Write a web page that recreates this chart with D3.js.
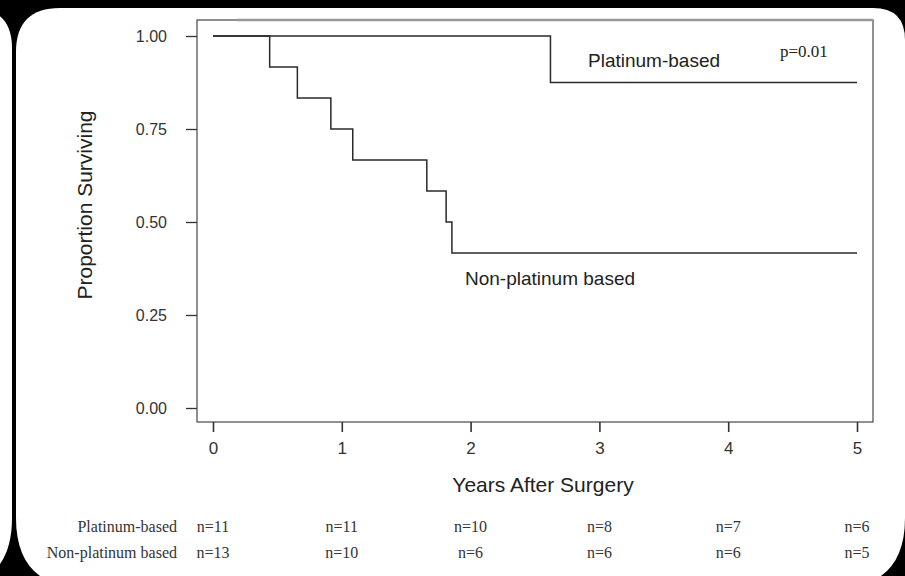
<!DOCTYPE html>
<html>
<head>
<meta charset="utf-8">
<script src="https://cdn.jsdelivr.net/npm/d3@7/dist/d3.min.js"></script>
<style>
    body { margin: 0; background: #000; }
    svg { display: block; }
</style>
</head>
<body>
<div id="chart_area"></div>
<script>

// survival curves
var plat_times = [0, 2.62];
var plat_surv = [1, 0.875];
var nonplat_times = [0, 0.44, 0.655, 0.915, 1.085, 1.66, 1.81, 1.855];
var nonplat_surv = [1, 0.917, 0.833, 0.75, 0.667, 0.583, 0.5, 0.417];
var follow_up_end = 5;

var x_ticks = [0, 1, 2, 3, 4, 5];
var y_ticks = [0, 0.25, 0.5, 0.75, 1];

// numbers at risk
var risk_groups = ["Platinum-based", "Non-platinum based"];
var risk_years = [0, 1, 2, 3, 4, 5];
var plat_n = [11, 11, 10, 8, 7, 6];
var nonplat_n = [13, 10, 6, 6, 6, 5];

var svg_w = 905;
var svg_h = 576;
var svg = d3.select("#chart_area")
    .append("svg")
    .attr("width", svg_w)
    .attr("height", svg_h);

draw_panel();
draw_plot();
draw_risk_table();

function draw_panel(){
    svg.append("rect")
        .attr("width", svg_w)
        .attr("height", svg_h)
        .style("fill", "#000");

    // bit of the neighbouring slide on the left
    svg.append("path")
        .attr("d", "M-60,20 Q-60,8 -40,8 L-28,8 Q12,8 12,48 L12,518 Q12,588 -58,588 L-60,588 Z")
        .style("fill", "#fff");

    // main white panel
    svg.append("path")
        .attr("d", "M16,52 Q16,8 60,8 L873,8 Q905,8 905,40 L905,518 Q905,588 835,588 L86,588 Q16,588 16,518 Z")
        .style("fill", "#fff");
}

function draw_plot(){
    var left = 197, right = 873, top = 20, bottom = 422;

    var xScale = d3.scaleLinear()
        .domain([0, 5])
        .range([213, 857]);

    var yScale = d3.scaleLinear()
        .domain([0, 1])
        .range([408, 36]);

    var plot = svg.append("g")
        .attr("id", "plot_group");

    // frame
    plot.append("rect")
        .attr("x", left)
        .attr("y", top)
        .attr("width", right - left)
        .attr("height", bottom - top)
        .style("fill", "none")
        .style("stroke", "#555")
        .style("stroke-width", 1.3);
    plot.append("line")
        .attr("x1", left + 40).attr("x2", right)
        .attr("y1", top).attr("y2", top)
        .style("stroke", "#999")
        .style("stroke-width", 2.5);

    // y axis ticks + labels
    var y_axis = plot.append("g")
        .attr("transform", "translate(" + left + ",0)")
        .call(d3.axisLeft(yScale)
            .tickValues(y_ticks)
            .tickSize(11)
            .tickPadding(19)
            .tickFormat(d3.format(".2f")));
    y_axis.select(".domain").remove();
    y_axis.selectAll("line").style("stroke", "#333").style("stroke-width", 1.3);
    y_axis.selectAll("text")
        .style("font-family", "'Liberation Sans', Arial, sans-serif")
        .style("font-size", "16px")
        .style("fill", "#333");

    // x axis
    var x_axis = plot.append("g")
        .attr("transform", "translate(0," + bottom + ")")
        .call(d3.axisBottom(xScale)
            .tickValues(x_ticks)
            .tickSize(10)
            .tickPadding(10)
            .tickFormat(d3.format("d")));
    x_axis.select(".domain").remove();
    x_axis.selectAll("line").style("stroke", "#333").style("stroke-width", 1.6);
    x_axis.selectAll("text")
        .style("font-family", "'Liberation Sans', Arial, sans-serif")
        .style("font-size", "17px")
        .style("fill", "#333");

    // curves
    var step = d3.line()
        .x(function(d){ return xScale(d[0]); })
        .y(function(d){ return yScale(d[1]); })
        .curve(d3.curveStepAfter);

    var curves = [
        [plat_times, plat_surv],
        [nonplat_times, nonplat_surv]
    ];
    curves.forEach(function(c){
        var pts = c[0].map(function(t, i){ return [t, c[1][i]]; });
        pts.push([follow_up_end, c[1][c[1].length - 1]]);
        plot.append("path")
            .datum(pts)
            .attr("d", step)
            .style("fill", "none")
            .style("stroke", "#2a2a2a")
            .style("stroke-width", 1.5);
    });

    // labels inside the plot
    plot.append("text")
        .attr("x", 588)
        .attr("y", 67)
        .text("Platinum-based")
        .style("font-family", "'Liberation Sans', Arial, sans-serif")
        .style("font-size", "19px")
        .style("fill", "#222");

    plot.append("text")
        .attr("x", 780)
        .attr("y", 57)
        .text("p=0.01")
        .style("font-family", "'Liberation Serif', 'Times New Roman', serif")
        .style("font-size", "17px")
        .style("fill", "#222");

    plot.append("text")
        .attr("x", 465)
        .attr("y", 285)
        .text("Non-platinum based")
        .style("font-family", "'Liberation Sans', Arial, sans-serif")
        .style("font-size", "19px")
        .style("fill", "#222");

    // axis titles
    svg.append("text")
        .attr("x", 543)
        .attr("y", 492)
        .attr("text-anchor", "middle")
        .text("Years After Surgery")
        .style("font-family", "'Liberation Sans', Arial, sans-serif")
        .style("font-size", "21px")
        .style("fill", "#222");

    svg.append("text")
        .attr("transform", "translate(92,205) rotate(-90)")
        .attr("text-anchor", "middle")
        .text("Proportion Surviving")
        .style("font-family", "'Liberation Sans', Arial, sans-serif")
        .style("font-size", "21px")
        .style("fill", "#222");

    draw_plot.xScale = xScale;
}

function draw_risk_table(){
    var xScale = draw_plot.xScale;
    var rows_y = [532, 558];
    var rows_n = [plat_n, nonplat_n];

    var table = svg.append("g")
        .attr("id", "risk_table")
        .style("font-family", "'Liberation Serif', 'Times New Roman', serif")
        .style("font-size", "16px")
        .style("fill", "#333");

    risk_groups.forEach(function(name, r){
        table.append("text")
            .attr("x", 177)
            .attr("y", rows_y[r])
            .attr("text-anchor", "end")
            .text(name);

        table.selectAll(".n_row" + r)
            .data(rows_n[r])
            .enter()
            .append("text")
            .attr("class", "n_row" + r)
            .attr("x", function(d, i){ return xScale(risk_years[i]); })
            .attr("y", rows_y[r])
            .attr("text-anchor", "middle")
            .text(function(d){ return "n=" + d; });
    });
}

</script>
</body>
</html>
